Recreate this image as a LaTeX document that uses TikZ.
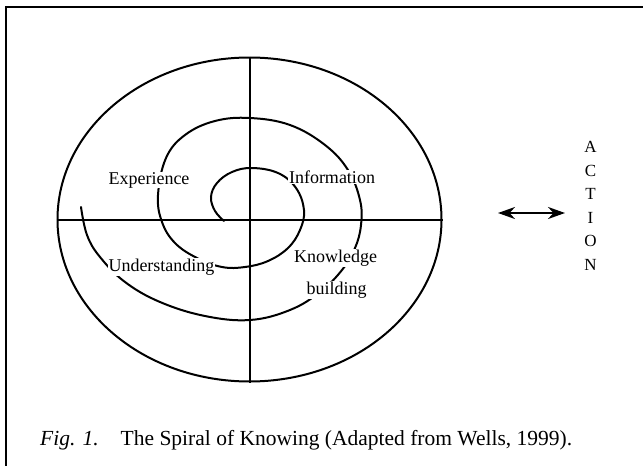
\documentclass[tikz,border=0pt]{standalone}
\usepackage{fontspec}
\setmainfont{Liberation Serif}
\usepackage{tikz}
\usetikzlibrary{shapes, arrows.meta, calc}
\tikzstyle{ring} = [ellipse, draw, line width=2pt,
    minimum width=384pt, minimum height=324pt, inner sep=0pt]
\tikzstyle{stage} = [fill=white, inner sep=0.6pt,
    font=\fontsize{18}{20}\selectfont]
\tikzstyle{line} = [draw, line width=2pt]
\tikzstyle{spiral} = [draw, line width=2pt, line cap=round]
\tikzstyle{dblarrow} = [draw, line width=2.4pt,
    {Stealth[length=17pt,width=12pt]}-{Stealth[length=17pt,width=12pt]}]

\begin{document}
\begin{tikzpicture}[x=1pt, y=-1pt]
    \useasboundingbox (0,0) rectangle (643,466);
    \clip (0,0) rectangle (643,466);
    % Frame
    \draw [line width=2pt] (6,480) -- (6,7) -- (660,7);
    % Nodes
    \node [ring] (wheel) at (249.5,219.5) {};
    \path [line] (wheel.west) -- (wheel.east);
    \path [line] (wheel.north) -- (wheel.south);
    \path [spiral] plot [smooth, tension=0.65] coordinates {
        (224,221) (215,211) (211,197) (217,183) (232,172) (252,168)
        (278,173) (296,188) (304,210) (300,230) (288,248) (268,261)
        (245,267) (222,267) (197,258) (175,243) (162,222) (158,195)
        (166,158) (185,135) (215,121) (250,118) (290,125) (325,145)
        (348,170) (360,200) (361,225) (355,248) (342,270) (320,292)
        (290,310) (250,320) (205,316) (160,302) (125,282) (100,257)
        (87,235) (81,207)};
    \node [stage] (experience) at (149,180) {Experience};
    \node [stage] (information) at (332,177) {Information};
    \node [stage] (understanding) at (161.5,267) {Understanding};
    \node [stage] (knowledge) at (335.5,258) {Knowledge};
    \node [stage] (building) at (336.5,290) {building};
    \node [align=center, inner sep=0pt, font=\fontsize{17}{23.5}\selectfont] (action) at (590.5,206) {A\\C\\T\\I\\O\\N};
    \coordinate (pushL) at (498,213);
    \coordinate (pushR) at (565,213);
    \node [anchor=west, inner sep=0pt, font=\fontsize{21.5}{24}\selectfont] (caption) at (40,440)
        {\textit{Fig. 1.}\hspace{22pt}The Spiral of Knowing (Adapted from Wells, 1999).};
    % Edges
    \path [dblarrow] (pushL) -- (pushR);
\end{tikzpicture}
\end{document}
